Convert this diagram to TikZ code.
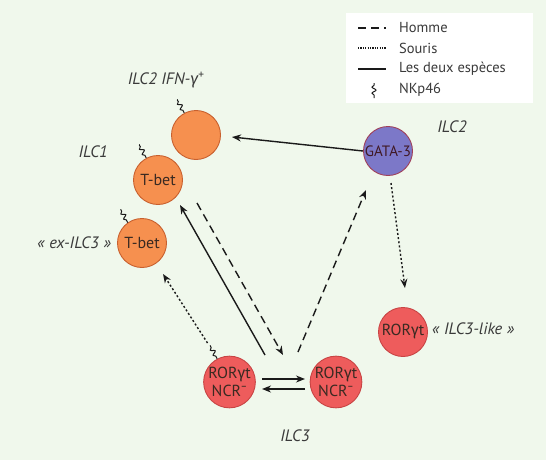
\documentclass[tikz,border=0pt]{standalone}
\usepackage{fontspec}
\setmainfont{PT Sans}
\newfontfamily\grk{Fira Sans}
\usetikzlibrary{arrows.meta,calc,decorations.pathmorphing}
\definecolor{bgc}{HTML}{F0F8EC}
\definecolor{orF}{HTML}{F6904F}
\definecolor{orD}{HTML}{C8602E}
\definecolor{rdF}{HTML}{EE5C5C}
\definecolor{rdD}{HTML}{C84444}
\definecolor{puF}{HTML}{7C78C8}
\definecolor{puD}{HTML}{A0405A}
\definecolor{txtD}{HTML}{3A2A22}
\definecolor{lblc}{HTML}{3A3A3A}
\definecolor{arrc}{HTML}{1A1A1A}
\begin{document}
\begin{tikzpicture}[x=1pt,y=-1pt,
  cell/.style={circle, minimum size=49pt, inner sep=0pt, line width=0.9pt, text=txtD, font=\fontsize{16}{18}\selectfont, align=center},
  orcell/.style={cell, fill=orF, draw=orD},
  rdcell/.style={cell, fill=rdF, draw=rdD},
  pucell/.style={cell, fill=puF, draw=puD, text=puD!40!black, font=\fontsize{15}{17}\selectfont},
  lbl/.style={font=\fontsize{16.5}{18}\selectfont\itshape, text=lblc, inner sep=0pt},
  legtxt/.style={font=\fontsize{14.5}{16}\selectfont, text=lblc, anchor=west, inner sep=0pt},
  conn/.style={line width=1.4pt, draw=arrc, -{Stealth[length=9pt,width=7pt]}},
  dashconn/.style={conn, dash pattern=on 8pt off 5pt},
  dotconn/.style={conn, dash pattern=on 2pt off 2.2pt},
  nkp/.pic={\draw[line width=1pt, draw=arrc, decorate, decoration={snake, segment length=6pt, amplitude=2pt, pre length=3pt, post length=0.5pt}] (0,0) -- (0,-15);}
]
\fill[bgc] (0,0) rectangle (546,460);
\useasboundingbox (0,0) rectangle (546,460);

% legend
\node[fill=white, minimum width=187pt, minimum height=90pt, inner sep=0pt] (legend) at (439.5,58) {};
\draw[line width=1.4pt, draw=arrc, dash pattern=on 8pt off 5pt] (358,28) -- (386,28);
\draw[line width=1.4pt, draw=arrc, dash pattern=on 1.2pt off 1.2pt] (358,48) -- (386,48);
\draw[line width=1.4pt, draw=arrc] (358,69) -- (386,69);
\pic at (374,98) {nkp};
\node[legtxt] (lh) at (399,28) {Homme};
\node[legtxt] (ls) at (399,48) {Souris};
\node[legtxt] (ld) at (399,69) {Les deux espèces};
\node[legtxt] (ln) at (399,90) {NKp46};

% cells
\node[orcell] (ifn) at (196,135) {};
\node[orcell] (ilc1) at (158,180) {T-bet};
\node[orcell] (exilc) at (142,243) {T-bet};
\node[pucell] (gata) at (388,151) {GATA-3};
\node[rdcell] (rorl) at (229.5,382) {ROR{\grk γ}t\\NCR\textsuperscript{\grk −}};
\node[rdcell] (rorr) at (336,382) {ROR{\grk γ}t\\NCR\textsuperscript{\grk −}};
\node[rdcell] (like) at (403,332) {ROR{\grk γ}t};

% NKp46 marks
\pic[rotate=28] at (ifn.118) {nkp};
\pic[rotate=28] at (ilc1.118) {nkp};
\pic[rotate=28] at (exilc.125) {nkp};
\pic[rotate=28] at (rorl.118) {nkp};

% labels
\node[lbl] (lifn) at (166,80) {ILC2 IFN-{\grk\itshape γ}\textsuperscript{+}};
\node[lbl, anchor=east] (lilc1) at (108,152) {ILC1};
\node[lbl, anchor=east] (lex) at (111,243) {« ex-ILC3 »};
\node[lbl] (lilc2) at (452,127) {ILC2};
\node[lbl, anchor=west] (llike) at (432,329) {« ILC3-like »};
\node[lbl] (lilc3) at (295,436) {ILC3};

% connectors
\draw[conn] ($(gata)+(-25,0)$) -- ($(ifn)+(36,2)$);
\draw[conn] ($(rorl)+(35.5,-27)$) -- ($(ilc1)+(22,25)$);
\draw[dashconn] ($(ilc1)+(39,23)$) -- ($(rorl)+(53.5,-27)$);
\draw[dashconn] ($(rorr)+(-38,-30)$) -- ($(gata)+(-22,39)$);
\draw[dotconn] ($(gata)+(3,32)$) -- ($(like)+(2,-44)$);
\draw[dotconn] ($(rorl)+(-22,-39)$) -- ($(exilc)+(21,31)$);
\draw[conn] ($(rorl)+(32.5,-3)$) -- ($(rorr)+(-31,-3)$);
\draw[conn] ($(rorr)+(-31,7)$) -- ($(rorl)+(32.5,7)$);
\end{tikzpicture}
\end{document}
